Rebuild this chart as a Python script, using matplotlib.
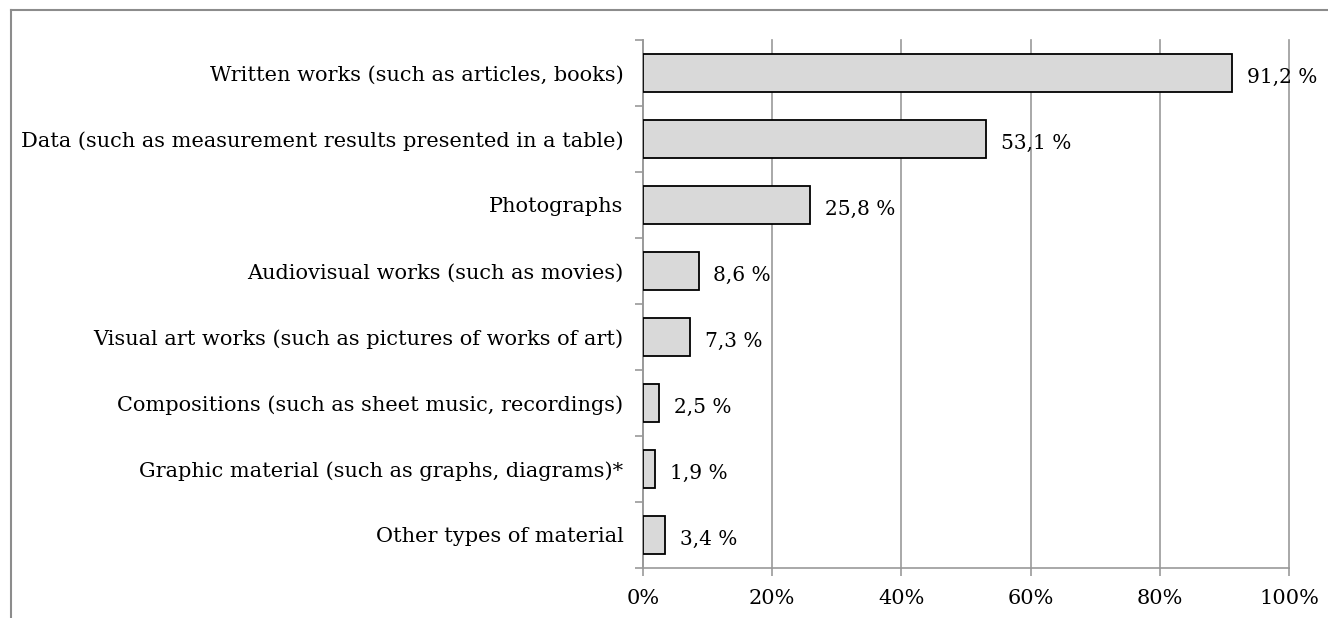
import numpy as np
import matplotlib.pyplot as plt
from matplotlib.lines import Line2D
from matplotlib.ticker import FixedLocator, FuncFormatter

categories = [
    "Written works (such as articles, books)",
    "Data (such as measurement results presented in a table)",
    "Photographs",
    "Audiovisual works (such as movies)",
    "Visual art works (such as pictures of works of art)",
    "Compositions (such as sheet music, recordings)",
    "Graphic material (such as graphs, diagrams)*",
    "Other types of material",
]
values = [91.2, 53.1, 25.8, 8.6, 7.3, 2.5, 1.9, 3.4]
xticks = [0, 20, 40, 60, 80, 100]

plt.rcParams.update({
    'font.family': 'DejaVu Serif',
    'font.size': 15,
    'text.color': '#000000',
})

GRID = '#999999'

fig = plt.figure(figsize=(13.28, 6.18), dpi=100)
ax = fig.add_axes([643 / 1328, 1 - 568 / 618, (1289 - 643) / 1328, (568 - 40) / 618])

y = np.arange(len(categories))
ax.barh(y, values, height=0.58, color='#d9d9d9', edgecolor='#000000',
        linewidth=1.3, zorder=3)

for yi, v in zip(y, values):
    ax.text(v + 2.3, yi + 0.06, f"{v:.1f} %".replace('.', ','),
            va='center', ha='left', fontsize=14.5, zorder=4)

ax.set_xlim(0, 100)
ax.set_ylim(len(categories) - 0.5, -0.5)
ax.set_yticks(y)
ax.set_yticklabels(categories)
ax.yaxis.set_minor_locator(FixedLocator(np.arange(-0.5, len(categories), 1.0)))
ax.tick_params(axis='y', which='major', length=0, pad=14, labelsize=15)
ax.tick_params(axis='y', which='minor', length=6, width=1.2, color=GRID)

ax.set_xticks(xticks)
ax.xaxis.set_major_formatter(FuncFormatter(lambda v, p: f"{int(v)}%"))
ax.tick_params(axis='x', length=6, width=1.2, color=GRID, pad=9, labelsize=15)

ax.grid(axis='x', color=GRID, linewidth=1.2, zorder=0)
for gl in ax.get_xgridlines():
    gl.set_clip_on(False)
for s in ['top', 'right']:
    ax.spines[s].set_visible(False)
for s in ['left', 'bottom']:
    ax.spines[s].set_color(GRID)
    ax.spines[s].set_linewidth(1.2)

# outer frame (top and left edges visible)
fig.add_artist(Line2D([11 / 1328, 1.0], [1 - 10 / 618, 1 - 10 / 618],
                      transform=fig.transFigure, color='#8c8c8c', linewidth=1.5))
fig.add_artist(Line2D([11 / 1328, 11 / 1328], [0.0, 1 - 10 / 618],
                      transform=fig.transFigure, color='#8c8c8c', linewidth=1.5))

fig.savefig('out.png', dpi=100)
